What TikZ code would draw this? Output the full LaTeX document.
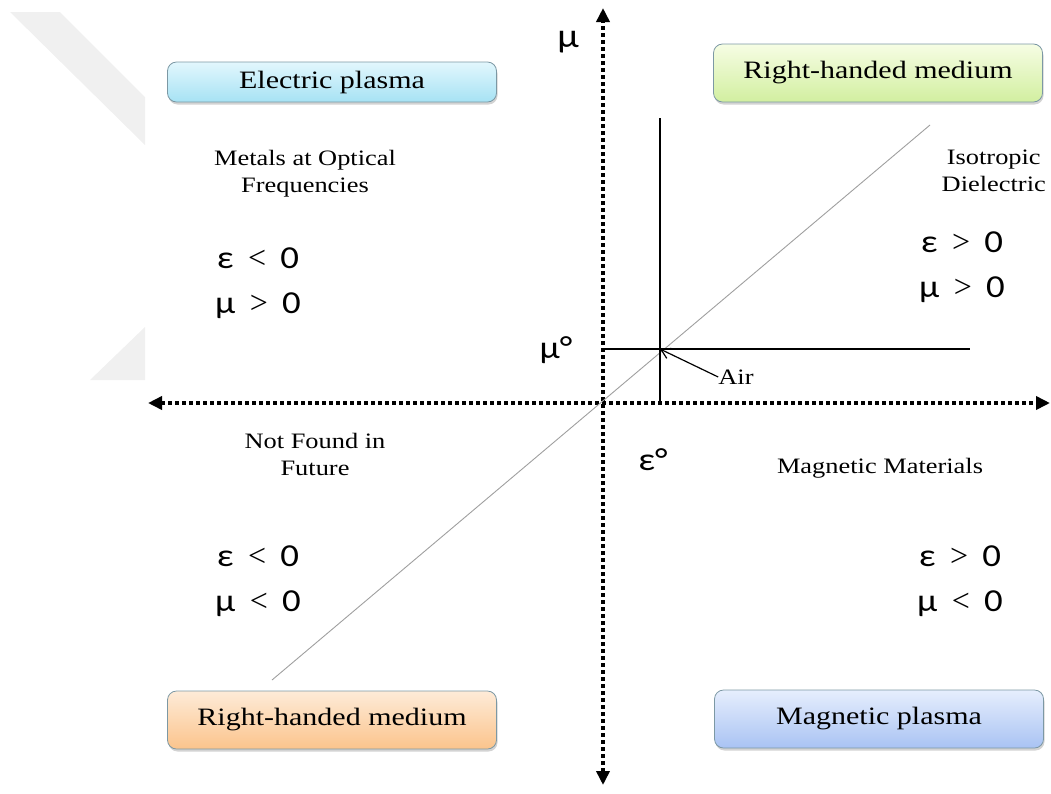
\documentclass[tikz,border=0pt]{standalone}
\usepackage{fontspec}
\setmainfont{Liberation Serif}
\newfontfamily\widerm[FakeStretch=1.2]{Liberation Serif}
\newfontfamily\greekfont[FakeStretch=1.15]{Carlito}
\newcommand{\relsym}[1]{\hspace{0.45em}{\rmfamily\fontsize{32}{34}\selectfont #1}\hspace{0.45em}}
\usetikzlibrary{shapes, arrows.meta, positioning, shadows}

\definecolor{boxline}{HTML}{7C98A4}
\definecolor{cyantop}{HTML}{E2F7FD}
\definecolor{cyanbot}{HTML}{A6E2F4}
\definecolor{greentop}{HTML}{F6FDE4}
\definecolor{greenbot}{HTML}{D2EFA0}
\definecolor{orangetop}{HTML}{FEEBD8}
\definecolor{orangebot}{HTML}{FBC48C}
\definecolor{bluetop}{HTML}{E6EEFD}
\definecolor{bluebot}{HTML}{A9C3F3}

\begin{document}
\begin{tikzpicture}[
        x=1pt, y=-1pt,
        node distance=24pt and 10pt,
        box/.style={rectangle, draw=boxline, line width=0.8pt, rounded corners=9pt, minimum width=329pt, minimum height=58pt, font=\widerm\fontsize{25}{30}\selectfont, drop shadow={opacity=0.35, shadow xshift=1pt, shadow yshift=-2.5pt}},
        note/.style={font=\widerm\fontsize{22}{27}\selectfont, align=center, inner sep=0pt},
        sign/.style={font=\greekfont\fontsize{32}{34}\selectfont, inner sep=0pt},
        axis/.style={line width=3.5pt, dash pattern=on 3.5pt off 3.5pt, {Triangle[length=14pt,width=13pt]}-{Triangle[length=14pt,width=13pt]}},
        guide/.style={line width=1.3pt},
        arrow/.style={line width=1.2pt, -{Straight Barb[length=9pt,width=11pt]}}
    ]
    \useasboundingbox (0,0) rectangle (1051,793);

    % faint mark on the left
    \fill [gray!12] (10,12) -- (60,12) -- (145,97) -- (145,145) -- cycle;
    \fill [gray!12] (145,327) -- (145,380) -- (90,380) -- cycle;

    % Axes
    \coordinate (origin) at (603,403);
    \draw [axis] (148,403) -- (1050,403);
    \draw [axis] (603,785) -- (603,8);

    % Air reference lines
    \coordinate (airpt) at (660,349);
    \draw [gray!75, line width=0.9pt] (272,680) -- (930,125);
    \draw [guide] (660,118) -- (660,403);
    \draw [guide] (603,349) -- (970,349);

    % Axis labels
    \node [sign, font=\greekfont\fontsize{34}{36}\selectfont] (mu) at (568,42) {μ};
    \node [sign] (mu0) at (556,350) {μ°};
    \node [sign] (eps0) at (653,460) {ε°};
    \node [note] (air) at (736,377) {Air};
    \draw [arrow] (air.west) -- (airpt);

    % Quadrant boxes
    \node [box, minimum height=40pt, top color=cyantop, bottom color=cyanbot] (eplasma) at (332,82) {Electric plasma};
    \node [box, top color=greentop, bottom color=greenbot] (rhtop) at (878,73) {Right-handed medium};
    \node [box, top color=orangetop, bottom color=orangebot] (rhbot) at (332,720) {Right-handed medium};
    \node [box, top color=bluetop, bottom color=bluebot] (mplasma) at (879,719) {Magnetic plasma};

    % Quadrant notes
    \node [note] (metals) at (305,174) {Metals at Optical\\ Frequencies};
    \node [note, anchor=east] (iso) at (1046,171) {Isotropic\\ Dielectric};
    \node [note] (notfound) at (315,454) {Not Found in\\ Future};
    \node [note] (magmat) at (880,468) {Magnetic Materials};

    % Signs of epsilon and mu
    \node [sign] (epsA) at (258,258) {ε\relsym{<}0};
    \node [sign, below=of epsA] (muA) {μ\relsym{>}0};
    \node [sign] (epsB) at (962,242) {ε\relsym{>}0};
    \node [sign, below=of epsB] (muB) {μ\relsym{>}0};
    \node [sign] (epsC) at (258,556) {ε\relsym{<}0};
    \node [sign, below=of epsC] (muC) {μ\relsym{<}0};
    \node [sign] (epsD) at (960,556) {ε\relsym{>}0};
    \node [sign, below=of epsD] (muD) {μ\relsym{<}0};

\end{tikzpicture}
\end{document}
